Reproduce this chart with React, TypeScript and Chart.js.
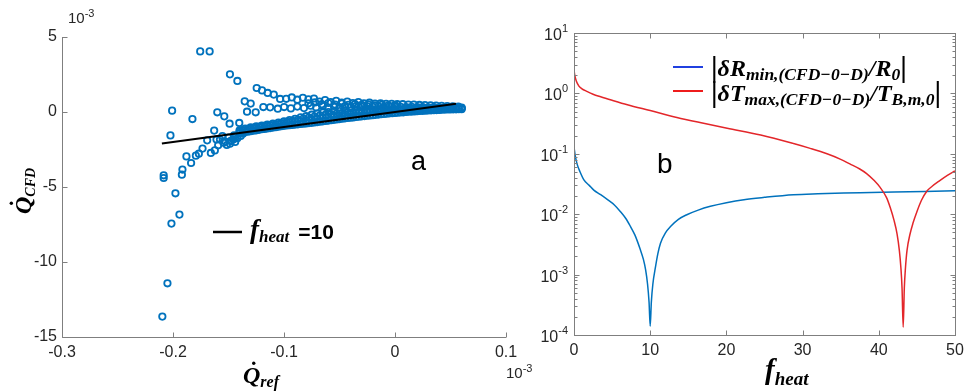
import React, { useEffect, useRef } from "react";
import { Chart, registerables } from "chart.js";

Chart.register(...registerables);

// ---------------- Panel (a): Q_CFD vs Q_ref (units of 1e-3) ----------------
const xTicksA = [-0.3, -0.2, -0.1, 0, 0.1];
const xTickLabelsA = ["-0.3", "-0.2", "-0.1", "0", "0.1"];
const yTicksA = [5, 0, -5, -10, -15];
const yTickLabelsA = ["5", "0", "-5", "-10", "-15"];

// scattered / transient points
const outlierX = [-0.1755, -0.167, -0.1487, -0.142, -0.1246, -0.1198, -0.1147, -0.1092, -0.1035, -0.1354, -0.13, -0.1333, -0.1255, -0.1186,
  -0.2008, -0.2023, -0.1825, -0.1601, -0.1538, -0.149, -0.1403, -0.2084, -0.2084, -0.2014, -0.1978, -0.1942, -0.205, -0.2096,
  -0.1915, -0.192, -0.1879, -0.1837, -0.1794, -0.1767, -0.1734, -0.1692, -0.1659, -0.1623, -0.1593, -0.1608, -0.1629, -0.1577,
  -0.1532, -0.1487, -0.1457, -0.1545, -0.150, -0.145, -0.1555, -0.1515, -0.1475, -0.1435, -0.142, -0.139, -0.137, -0.148, -0.144];
const outlierY = [4.04, 4.04, 2.51, 2.07, 1.6, 1.44, 1.27, 1.16, 0.87, 0.71, 0.56, 0.02, -0.02, 0.33,
  0.09, -1.56, -0.47, -0.02, -0.29, -0.78, -0.73, -4.22, -4.4, -7.44, -5.42, -6.84, -11.42, -13.64,
  -3.84, -4.18, -2.96, -3.4, -2.91, -2.78, -2.44, -1.89, -2.73, -2.56, -2.22, -1.83, -1.24, -1.84,
  -1.95, -2.11, -1.84, -2.05, -1.7, -1.55, -1.6, -2.2, -1.9, -1.65, -1.75, -1.6, -1.45, -1.95, -2.0];

// upper converging rows
const upper1X = [-0.098, -0.093, -0.088, -0.083, -0.078, -0.073, -0.068, -0.063, -0.058, -0.053, -0.048, -0.043, -0.038, -0.033, -0.028, -0.023,
  -0.018, -0.013, -0.008, -0.003, 0.002, 0.007, 0.012, 0.017, 0.022, 0.027, 0.032, 0.037, 0.042, 0.047, 0.052, 0.057];
const upper1Y = [0.88, 0.97, 0.82, 0.95, 0.84, 0.9, 0.7, 0.8, 0.66, 0.74, 0.63, 0.7, 0.6, 0.66, 0.58, 0.62,
  0.56, 0.58, 0.54, 0.55, 0.52, 0.52, 0.5, 0.49, 0.47, 0.46, 0.44, 0.43, 0.41, 0.4, 0.38, 0.36];
const upper2X = [-0.1125, -0.1056, -0.0999, -0.0938, -0.088, -0.082, -0.076, -0.071, -0.065, -0.06, -0.055, -0.05, -0.045, -0.04, -0.035, -0.03, -0.025,
  -0.02, -0.015, -0.01, -0.005, 0, 0.005, 0.01, 0.015, 0.02, 0.025, 0.03, 0.035, 0.04, 0.045, 0.05, 0.055, 0.06];
const upper2Y = [0.31, 0.22, 0.33, 0.24, 0.36, 0.26, 0.42, 0.3, 0.42, 0.3, 0.4, 0.32, 0.4, 0.33, 0.39, 0.34, 0.38,
  0.34, 0.37, 0.34, 0.36, 0.34, 0.35, 0.33, 0.34, 0.32, 0.33, 0.31, 0.32, 0.3, 0.31, 0.3, 0.3, 0.29];
const upper3X = [-0.078, -0.072, -0.066, -0.06, -0.054, -0.048, -0.042, -0.036, -0.03, -0.024, -0.018, -0.012, -0.006, 0];
const upper3Y = [0.58, 0.64, 0.52, 0.6, 0.5, 0.56, 0.48, 0.53, 0.47, 0.5, 0.45, 0.48, 0.44, 0.46];

// dense band (rows on two staggered grids)
const bandX = [-0.14, -0.135, -0.13, -0.125, -0.12, -0.115, -0.11, -0.105, -0.1, -0.095, -0.09, -0.085, -0.08, -0.075, -0.07, -0.065,
  -0.06, -0.055, -0.05, -0.045, -0.04, -0.035, -0.03, -0.025, -0.02, -0.015, -0.01, -0.005, 0, 0.005, 0.01, 0.015, 0.02,
  0.025, 0.03, 0.035, 0.04, 0.045, 0.05, 0.055, 0.06];
const bandLow = [-1.4, -1.34, -1.28, -1.22, -1.15, -1.1, -1.04, -0.98, -0.92, -0.88, -0.84, -0.8, -0.76, -0.72, -0.67, -0.62,
  -0.57, -0.52, -0.47, -0.42, -0.38, -0.33, -0.29, -0.25, -0.21, -0.17, -0.13, -0.09, -0.06, -0.03, 0, 0.03, 0.05,
  0.08, 0.1, 0.12, 0.14, 0.16, 0.17, 0.18, 0.19];
const bandMid = [-1.3, -1.22, -1.15, -1.08, -1.02, -0.96, -0.9, -0.84, -0.78, -0.72, -0.66, -0.6, -0.54, -0.48, -0.42, -0.36,
  -0.31, -0.26, -0.22, -0.18, -0.14, -0.1, -0.07, -0.04, -0.01, 0.02, 0.04, 0.06, 0.08, 0.1, 0.12, 0.13, 0.15,
  0.16, 0.17, 0.18, 0.19, 0.2, 0.21, 0.22, 0.23];
const bandUp = [-1.22, -1.1, -1.02, -0.95, -0.9, -0.84, -0.78, -0.7, -0.62, -0.54, -0.45, -0.36, -0.28, -0.18, -0.1, -0.04,
  0, 0.03, 0.06, 0.08, 0.1, 0.12, 0.13, 0.14, 0.15, 0.16, 0.17, 0.18, 0.19, 0.2, 0.21, 0.22, 0.22,
  0.23, 0.23, 0.24, 0.24, 0.25, 0.25, 0.25, 0.26];
const bandX2 = [-0.1375, -0.1325, -0.1275, -0.1225, -0.1175, -0.1125, -0.1075, -0.1025, -0.0975, -0.0925, -0.0875, -0.0825, -0.0775,
  -0.0725, -0.0675, -0.0625, -0.0575, -0.0525, -0.0475, -0.0425, -0.0375, -0.0325, -0.0275, -0.0225, -0.0175, -0.0125, -0.0075,
  -0.0025, 0.0025, 0.0075, 0.0125, 0.0175, 0.0225, 0.0275, 0.0325, 0.0375, 0.0425, 0.0475, 0.0525, 0.0575];
const bandLow2 = [-1.37, -1.31, -1.25, -1.19, -1.13, -1.07, -1.01, -0.95, -0.9, -0.86, -0.82, -0.78, -0.74, -0.7, -0.65, -0.6,
  -0.55, -0.5, -0.45, -0.4, -0.36, -0.31, -0.27, -0.23, -0.19, -0.15, -0.11, -0.08, -0.05, -0.02, 0.02, 0.04, 0.07,
  0.09, 0.11, 0.13, 0.15, 0.17, 0.18, 0.19];
const bandUp2 = [-1.21, -1.12, -1.05, -0.99, -0.93, -0.87, -0.8, -0.74, -0.66, -0.59, -0.52, -0.44, -0.37, -0.3, -0.23, -0.18,
  -0.14, -0.1, -0.07, -0.04, -0.01, 0.02, 0.04, 0.06, 0.08, 0.1, 0.11, 0.13, 0.14, 0.16, 0.17, 0.18, 0.19,
  0.2, 0.21, 0.21, 0.22, 0.23, 0.23, 0.24];

// f_heat = 10 line
const fitX = [-0.21, 0.055];
const fitY = [-2.1, 0.55];

// ---------------- Panel (b): relative deviations vs f_heat ----------------
const xTicksB = [0, 10, 20, 30, 40, 50];
const xTickLabelsB = ["0", "10", "20", "30", "40", "50"];
const yExpB = [1, 0, -1, -2, -3, -4];

const fHeatR = [0, 0.15, 0.4, 0.8, 1.3, 2, 2.6, 3.5, 4.4, 5.3, 6.1, 6.8, 7.4, 8.0, 8.7, 9.1, 9.4, 9.65, 9.85, 10.0, 10.15, 10.35,
  10.7, 11.0, 11.35, 12.0, 12.7, 13.7, 14.8, 16.3, 17.9, 20, 22.3, 25, 28.8, 32, 35.4, 39, 42, 46, 50];
const dRmin = [0.13, 0.095, 0.068, 0.05, 0.037, 0.03, 0.025, 0.021, 0.0174, 0.0142, 0.011, 0.0085, 0.0063, 0.0045, 0.0026, 0.0018,
  0.0012, 0.0007, 0.00035, 0.00014, 0.00035, 0.0007, 0.00135, 0.0022, 0.0033, 0.0049, 0.0063, 0.0082, 0.0098, 0.0117, 0.0135,
  0.0155, 0.0174, 0.019, 0.021, 0.0218, 0.0224, 0.0228, 0.0232, 0.0238, 0.0245];

const fHeatT = [0, 0.1, 0.3, 0.65, 1.0, 1.75, 2.5, 3.5, 5, 7, 10, 13.5, 17, 20.1, 24.5, 28.8, 31, 33.2, 35, 36.2, 37.5, 38.4, 39.4,
  40.2, 41, 41.5, 42, 42.4, 42.7, 42.9, 43.05, 43.2, 43.35, 43.5, 43.7, 44.1, 44.5, 45, 45.6, 46.3, 47, 48, 49, 50];
const dTmax = [2.45, 2.0, 1.6, 1.32, 1.2, 1.07, 0.97, 0.88, 0.77, 0.65, 0.52, 0.4, 0.32, 0.265, 0.205, 0.148, 0.123, 0.1, 0.081,
  0.068, 0.056, 0.047, 0.036, 0.0275, 0.019, 0.0129, 0.0079, 0.0047, 0.0025, 0.0013, 0.0006, 0.000135, 0.0006, 0.0013, 0.0025,
  0.0047, 0.0072, 0.011, 0.017, 0.024, 0.029, 0.036, 0.044, 0.052];

// ---------------- styles ----------------
const BLUE = "#0072BD";
const RED = "#e3262a";
const AXIS = "#7f7f7f";
const TXT = "#262626";
const SANS = '"Liberation Sans", Arial, sans-serif';
const SERIF = '"Liberation Serif", "Times New Roman", serif';
const bi = (s: number) => `italic bold ${s}px ${SERIF}`;

type Part = [string, string, number];
function drawRich(ctx: CanvasRenderingContext2D, x: number, y: number, parts: Part[]) {
  let cx = x;
  for (const [t, f, dy] of parts) {
    ctx.font = f;
    ctx.fillText(t, cx, y + dy);
    cx += ctx.measureText(t).width;
  }
  return cx;
}
function qdot(ctx: CanvasRenderingContext2D, x: number, y: number, size: number) {
  ctx.font = bi(size);
  const w = ctx.measureText("Q").width;
  ctx.beginPath();
  ctx.arc(x + w * 0.62, y - size * 0.82, 1.7, 0, Math.PI * 2);
  ctx.fill();
  return w;
}
function line(ctx: CanvasRenderingContext2D, x1: number, y1: number, x2: number, y2: number) {
  ctx.beginPath();
  ctx.moveTo(x1, y1);
  ctx.lineTo(x2, y2);
  ctx.stroke();
}
const pts = (xs: number[], ys: number[]) => xs.map((x, i) => ({ x, y: ys[i] }));

export default function App() {
  const refA = useRef<HTMLCanvasElement>(null);
  const refB = useRef<HTMLCanvasElement>(null);

  useEffect(() => {
    const scatterStyle = {
      showLine: false,
      borderColor: BLUE,
      backgroundColor: "rgba(0,0,0,0)",
      pointBorderColor: BLUE,
      pointBackgroundColor: "rgba(0,0,0,0)",
      pointRadius: 3.2,
      pointBorderWidth: 1.8,
      order: 1,
    };

    const plugA = {
      id: "decorA",
      afterDraw(chart: any) {
        const ctx: CanvasRenderingContext2D = chart.ctx;
        const a = chart.chartArea;
        const sx = chart.scales.x;
        const sy = chart.scales.y;
        ctx.save();
        ctx.strokeStyle = AXIS;
        ctx.lineWidth = 1;
        const L = Math.round(a.left) + 0.5;
        const B = Math.round(a.bottom) + 0.5;
        ctx.beginPath();
        ctx.moveTo(L, a.top);
        ctx.lineTo(L, B);
        ctx.lineTo(a.right, B);
        ctx.stroke();
        xTicksA.forEach((v) => {
          const px = Math.round(sx.getPixelForValue(v)) + 0.5;
          line(ctx, px, B, px, B - 5);
        });
        yTicksA.forEach((v) => {
          const py = Math.round(sy.getPixelForValue(v)) + 0.5;
          line(ctx, L, py, L + 5, py);
        });
        ctx.fillStyle = TXT;
        ctx.font = `16px ${SANS}`;
        ctx.textBaseline = "middle";
        ctx.textAlign = "center";
        xTicksA.forEach((v, i) => ctx.fillText(xTickLabelsA[i], sx.getPixelForValue(v), a.bottom + 16));
        ctx.textAlign = "right";
        yTicksA.forEach((v, i) => ctx.fillText(yTickLabelsA[i], a.left - 5, sy.getPixelForValue(v)));
        ctx.textAlign = "left";
        ctx.textBaseline = "alphabetic";
        drawRich(ctx, 68, 23, [["10", `15px ${SANS}`, 0], ["-3", `11px ${SANS}`, -6]]);
        drawRich(ctx, 506, 378, [["10", `15px ${SANS}`, 0], ["-3", `11px ${SANS}`, -6]]);
        ctx.fillStyle = "#000";
        qdot(ctx, 243, 383, 24);
        drawRich(ctx, 243, 383, [["Q", bi(24), 0], ["ref", bi(16), 4]]);
        ctx.save();
        ctx.translate(31, 214);
        ctx.rotate(-Math.PI / 2);
        qdot(ctx, 0, 0, 24);
        drawRich(ctx, 0, 0, [["Q", bi(24), 0], ["CFD", bi(14), 4]]);
        ctx.restore();
        ctx.strokeStyle = "#000";
        ctx.lineWidth = 2.5;
        line(ctx, 213, 232, 242, 232);
        const e = drawRich(ctx, 250, 238, [["f", bi(27), 0], ["heat", bi(17), 4]]);
        ctx.font = `bold 21px ${SANS}`;
        ctx.fillText("=10", e + 9, 239);
        ctx.font = `27px ${SANS}`;
        ctx.fillText("a", 411, 170);
        ctx.restore();
      },
    };

    const cfgA: any = {
      type: "scatter",
      data: {
        datasets: [
          { data: pts(fitX, fitY), showLine: true, borderColor: "#000", borderWidth: 2, pointRadius: 0, order: 0 },
          { data: pts(outlierX, outlierY), ...scatterStyle },
          { data: pts(upper1X, upper1Y), ...scatterStyle },
          { data: pts(upper2X, upper2Y), ...scatterStyle },
          { data: pts(upper3X, upper3Y), ...scatterStyle },
          { data: pts(bandX, bandUp), ...scatterStyle },
          { data: pts(bandX, bandMid), ...scatterStyle },
          { data: pts(bandX, bandLow), ...scatterStyle },
          { data: pts(bandX2, bandUp2), ...scatterStyle },
          { data: pts(bandX2, bandLow2), ...scatterStyle },
        ],
      },
      options: {
        animation: false,
        responsive: false,
        devicePixelRatio: 1,
        events: [],
        layout: { padding: { left: 0, right: 34, top: 37, bottom: 0 } },
        plugins: { legend: { display: false }, tooltip: { enabled: false } },
        scales: {
          x: {
            type: "linear", min: -0.3, max: 0.1,
            ticks: { display: false, stepSize: 0.1 },
            grid: { display: false }, border: { display: false },
            afterFit: (s: any) => { s.height = 55; },
          },
          y: {
            type: "linear", min: -15, max: 5,
            ticks: { display: false, stepSize: 5 },
            grid: { display: false }, border: { display: false },
            afterFit: (s: any) => { s.width = 62; },
          },
        },
      },
      plugins: [plugA],
    };

    const plugB = {
      id: "decorB",
      afterDraw(chart: any) {
        const ctx: CanvasRenderingContext2D = chart.ctx;
        const a = chart.chartArea;
        const sx = chart.scales.x;
        const sy = chart.scales.y;
        ctx.save();
        ctx.strokeStyle = AXIS;
        ctx.lineWidth = 1;
        const L = Math.round(a.left) + 0.5;
        const R = Math.round(a.right) + 0.5;
        const T = Math.round(a.top) + 0.5;
        const B = Math.round(a.bottom) + 0.5;
        ctx.strokeRect(L, T, R - L, B - T);
        xTicksB.forEach((v) => {
          const px = Math.round(sx.getPixelForValue(v)) + 0.5;
          line(ctx, px, B, px, B - 5);
          line(ctx, px, T, px, T + 5);
        });
        for (let k = -4; k <= 1; k++) {
          const py = Math.round(sy.getPixelForValue(Math.pow(10, k))) + 0.5;
          line(ctx, L, py, L + 5, py);
          line(ctx, R, py, R - 5, py);
          if (k < 1) {
            for (let m = 2; m <= 9; m++) {
              const pm = Math.round(sy.getPixelForValue(m * Math.pow(10, k))) + 0.5;
              line(ctx, L, pm, L + 3, pm);
              line(ctx, R, pm, R - 3, pm);
            }
          }
        }
        ctx.fillStyle = TXT;
        ctx.font = `16px ${SANS}`;
        ctx.textBaseline = "middle";
        ctx.textAlign = "center";
        xTicksB.forEach((v, i) => ctx.fillText(xTickLabelsB[i], sx.getPixelForValue(v), a.bottom + 16));
        ctx.textBaseline = "alphabetic";
        ctx.textAlign = "right";
        yExpB.forEach((e) => {
          const py = sy.getPixelForValue(Math.pow(10, e));
          const ex = String(e);
          ctx.font = `11px ${SANS}`;
          const w = ctx.measureText(ex).width;
          ctx.fillText(ex, a.left - 6, py - 1);
          ctx.font = `16px ${SANS}`;
          ctx.fillText("10", a.left - 6 - w, py + 7);
        });
        ctx.textAlign = "left";
        ctx.fillStyle = "#000";
        drawRich(ctx, 765 - 520, 379, [["f", bi(29), 0], ["heat", bi(19), 6]]);
        ctx.font = `28px ${SANS}`;
        ctx.fillText("b", 657 - 520, 173);
        const lx = 673 - 520;
        ctx.lineWidth = 2;
        ctx.strokeStyle = "#2040e0";
        line(ctx, lx, 67, lx + 30, 67);
        ctx.strokeStyle = "#ee1c1c";
        line(ctx, lx, 91, lx + 30, 91);
        ctx.fillStyle = "#000";
        const bar = `bold 30px ${SERIF}`;
        const tx = 711 - 520;
        drawRich(ctx, tx, 76, [
          ["|", bar, 1], ["δR", bi(24), 0], ["min,(CFD−0−D)", bi(17.5), 4], ["/R", bi(24), 0], ["0", bi(17.5), 4], ["|", bar, 1],
        ]);
        drawRich(ctx, tx, 101, [
          ["|", bar, 1], ["δT", bi(24), 0], ["max,(CFD−0−D)", bi(17.5), 4], ["/T", bi(24), 0], ["B,m,0", bi(17.5), 4], ["|", bar, 1],
        ]);
        ctx.restore();
      },
    };

    const cfgB: any = {
      type: "line",
      data: {
        datasets: [
          { data: pts(fHeatT, dTmax), borderColor: RED, borderWidth: 1.5, pointRadius: 0, cubicInterpolationMode: "monotone", fill: false, order: 0 },
          { data: pts(fHeatR, dRmin), borderColor: BLUE, borderWidth: 1.5, pointRadius: 0, cubicInterpolationMode: "monotone", fill: false, order: 1 },
        ],
      },
      options: {
        animation: false,
        responsive: false,
        devicePixelRatio: 1,
        events: [],
        layout: { padding: { left: 0, right: 9, top: 33, bottom: 0 } },
        plugins: { legend: { display: false }, tooltip: { enabled: false } },
        scales: {
          x: {
            type: "linear", min: 0, max: 50,
            ticks: { display: false, stepSize: 10 },
            grid: { display: false }, border: { display: false },
            afterFit: (s: any) => { s.height = 57; },
          },
          y: {
            type: "logarithmic", min: 1e-4, max: 10,
            ticks: { display: false },
            grid: { display: false }, border: { display: false },
            afterFit: (s: any) => { s.width = 54; },
          },
        },
      },
      plugins: [plugB],
    };

    const ca = new Chart(refA.current as HTMLCanvasElement, cfgA);
    const cb = new Chart(refB.current as HTMLCanvasElement, cfgB);
    let alive = true;
    const fonts: any = (document as any).fonts;
    if (fonts && fonts.load) {
      Promise.all([
        fonts.load(`italic bold 24px "Liberation Serif"`),
        fonts.load(`bold 30px "Liberation Serif"`),
        fonts.load(`16px "Liberation Sans"`),
        fonts.load(`bold 21px "Liberation Sans"`),
      ]).then(() => {
        if (alive) { ca.draw(); cb.draw(); }
      }).catch(() => {});
    }
    return () => {
      alive = false;
      ca.destroy();
      cb.destroy();
    };
  }, []);

  return (
    <div style={{ position: "absolute", left: 0, top: 0, width: 964, height: 392, background: "#fff" }}>
      <canvas ref={refA} width={540} height={392} style={{ position: "absolute", left: 0, top: 0, width: 540, height: 392 }} />
      <canvas ref={refB} width={444} height={392} style={{ position: "absolute", left: 520, top: 0, width: 444, height: 392 }} />
    </div>
  );
}
